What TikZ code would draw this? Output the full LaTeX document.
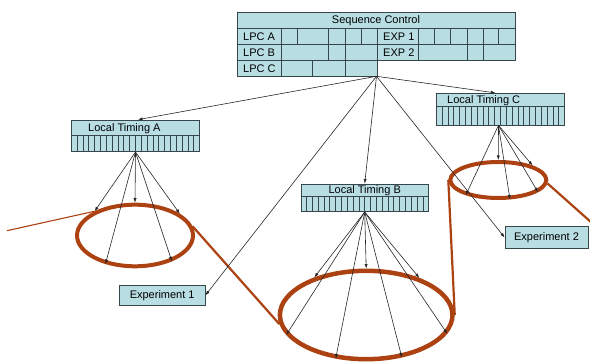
\documentclass[tikz,border=0pt]{standalone}
\usepackage{fontspec}
\setmainfont{Liberation Sans}
\usetikzlibrary{arrows.meta,shapes.geometric,calc}
\definecolor{boxfill}{RGB}{184,222,228}
\definecolor{boxline}{RGB}{55,70,75}
\definecolor{rust}{RGB}{172,66,18}
\begin{document}
\begin{tikzpicture}[x=1pt,y=-1pt,
  box/.style={draw=boxline,fill=boxfill,line width=0.75pt,inner sep=0pt,font=\fontsize{11}{12}\selectfont},
  cell/.style={draw=boxline,fill=boxfill,line width=0.75pt},
  tick/.style={draw=boxline,line width=0.7pt},
  lbl/.style={inner sep=0pt,anchor=west,font=\fontsize{11}{12}\selectfont},
  arr/.style={-{Latex[length=4.5pt,width=3.2pt]},line width=0.6pt,draw=black!85},
  ring/.style={draw=rust,ellipse,inner sep=0pt},
  trail/.style={draw=rust,line width=2.2pt}]
\useasboundingbox (0,0) rectangle (590,363);
% ---- Sequence control
\node[box,minimum width=278pt,minimum height=15.6pt] (sc) at (376,20.5) {Sequence Control};
\foreach \a/\b in {237/281,281/297,297/328,328/345,345/361,361/377,377/418,418/434,434/450,450/467,467/483,483/498,498/515}
  \draw[cell] (\a,28.3) rectangle (\b,44.3);
\foreach \a/\b in {237/281,281/328,328/345,345/377,377/418,418/467,467/483,483/515}
  \draw[cell] (\a,44.3) rectangle (\b,60.3);
\foreach \a/\b in {237/281,281/312,312/345,345/377}
  \draw[cell] (\a,60.3) rectangle (\b,76.3);
\node[lbl] (lpca) at (243,36.5) {LPC A};
\node[lbl] (lpcb) at (243,52.5) {LPC B};
\node[lbl] (lpcc) at (243,68.5) {LPC C};
\node[lbl] (exp1) at (383,36.5) {EXP 1};
\node[lbl] (exp2) at (383,52.5) {EXP 2};
\coordinate (hub) at (376.5,76.3);
% ---- Local timing boxes
\node[box,minimum width=127.6pt,minimum height=15.7pt] (ltA) at (135.5,127.85) {};
\node[lbl] (ltAt) at (88,128.2) {Local Timing A};
\node[box,minimum width=127.6pt,minimum height=16pt] (ltAs) at (135.5,143.7) {};
\node[box,minimum width=127.3pt,minimum height=12.7pt] (ltB) at (364.7,190.35) {Local Timing B};
\node[box,minimum width=127.3pt,minimum height=15pt] (ltBs) at (364.7,204.2) {};
\node[box,minimum width=127.6pt,minimum height=13.4pt] (ltC) at (500.5,100) {};
\node[lbl] (ltCt) at (447,100.3) {Local Timing C};
\node[box,minimum width=127.6pt,minimum height=18.3pt] (ltCs) at (500.5,115.85) {};
\foreach \s in {ltAs,ltBs,ltCs}
  \foreach \i in {1,...,21}
    \draw[tick] ($(\s.south west)!\i/22!(\s.south east)$) -- ($(\s.north west)!\i/22!(\s.north east)$);
% ---- Experiments
\node[box,minimum width=85.7pt,minimum height=20.7pt] (e1) at (162.2,295.3) {Experiment 1};
\node[box,minimum width=83pt,minimum height=21.3pt] (e2) at (546.5,237.5) {Experiment 2};
% ---- Rings
\node[ring,line width=4pt,minimum width=116pt,minimum height=61.6pt] (eA) at (135,235.5) {};
\node[ring,line width=4.5pt,minimum width=172.6pt,minimum height=88.4pt] (eB) at (366.2,315) {};
\node[ring,line width=4pt,minimum width=96pt,minimum height=36pt] (eC) at (498.3,180) {};
% ---- rust trail
\coordinate (tin) at (7,230.7);
\coordinate (tout) at (592,223);
\draw[draw=rust,line width=1.1pt] (tin) -- (eA.149);
\draw[trail] (eA.9) -- (eB.186);
\draw[trail] (eB.east) -- (eC.west);
\draw[trail] (eC.-4) -- (tout);
% ---- arrows from sequence control
\draw[arr] (hub) -- ($(ltA.north)+(2.5,0)$);
\draw[arr] (hub) -- (ltB.north);
\draw[arr] (hub) -- ($(ltC.north)+(-5,0)$);
\draw[arr] (hub) -- (e1.east);
\draw[arr] (hub) -- (e2.west);
% ---- local arrows A
\foreach \g in {149,90,26,224,-35}
  \draw[arr] (ltAs.south) -- (eA.\g);
% ---- local arrows B
\foreach \g in {144,90,35.5,194.8,235.8,-50.5,-13.9}
  \draw[arr] (ltBs.south) -- (eB.\g);
% ---- local arrows C
\foreach \g in {205,90,-59,23.2,-17.7}
  \draw[arr] ($(ltCs.south)+(-2,0)$) -- (eC.\g);
\end{tikzpicture}
\end{document}
